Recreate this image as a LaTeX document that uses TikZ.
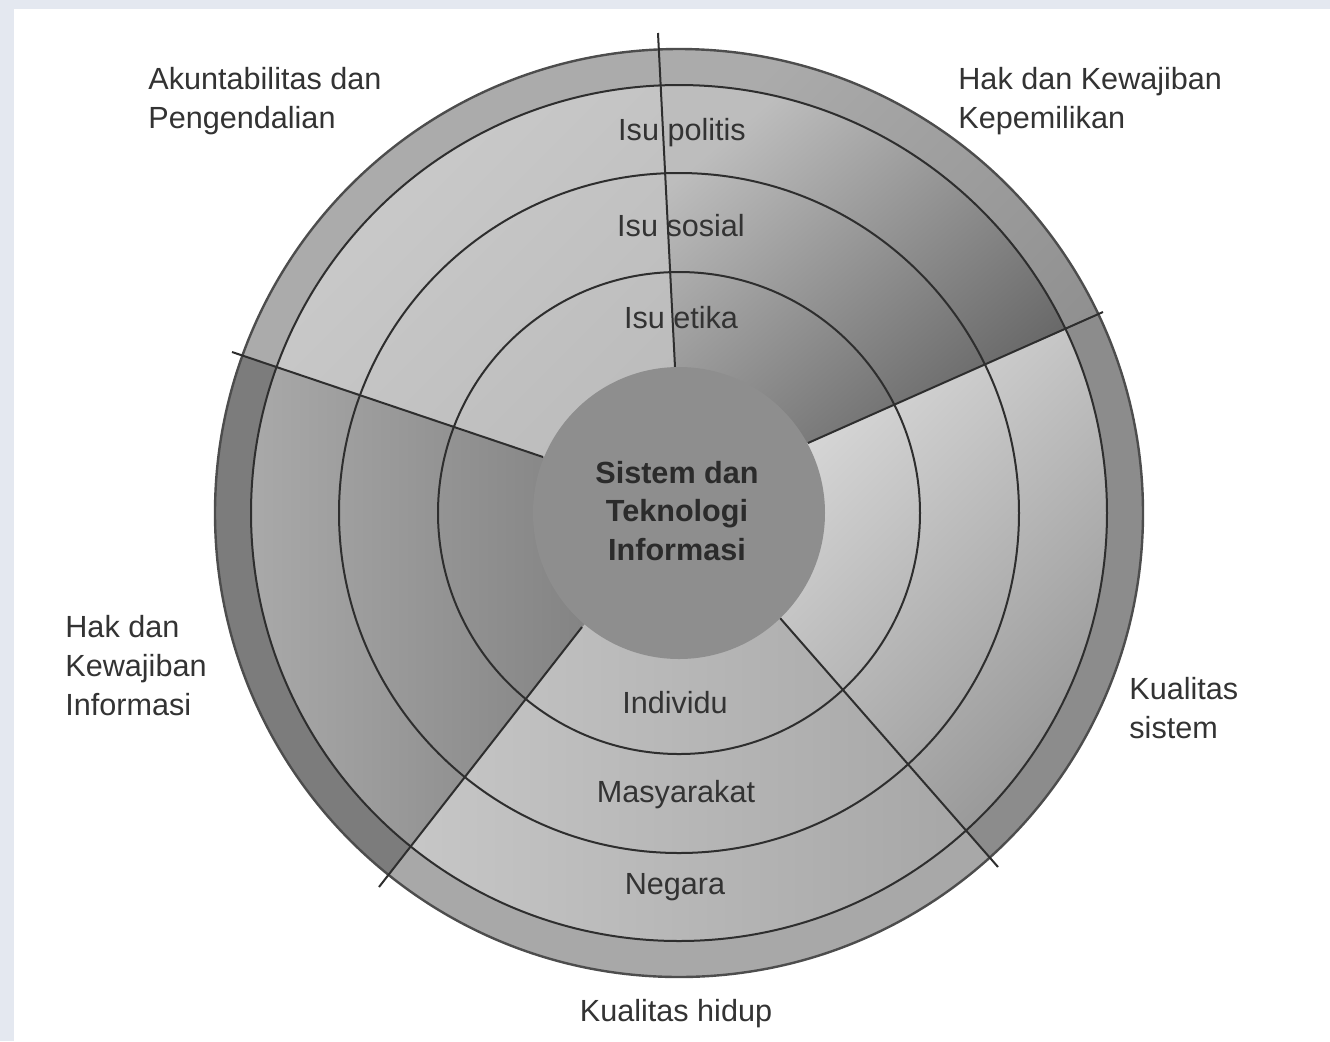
\documentclass[tikz,border=0pt]{standalone}
\usepackage{fontspec}
\setmainfont{Liberation Sans}
\usetikzlibrary{calc}
\definecolor{framecol}{HTML}{E4E8F0}
\definecolor{txtcol}{HTML}{333333}
\definecolor{edgecol}{HTML}{2E2E2E}
\definecolor{tlA}{HTML}{CDCDCD}
\definecolor{tlB}{HTML}{BBBBBB}
\definecolor{tlBand}{HTML}{ABABAB}
\definecolor{trA}{HTML}{BDBDBD}
\definecolor{trB}{HTML}{555555}
\definecolor{trBandA}{HTML}{ABABAB}
\definecolor{trBandB}{HTML}{8A8A8A}
\definecolor{rA}{HTML}{D8D8D8}
\definecolor{rB}{HTML}{969696}
\definecolor{rBand}{HTML}{8C8C8C}
\definecolor{bA}{HTML}{C8C8C8}
\definecolor{bB}{HTML}{A6A6A6}
\definecolor{bBand}{HTML}{A8A8A8}
\definecolor{lA}{HTML}{A9A9A9}
\definecolor{lB}{HTML}{828282}
\definecolor{lBand}{HTML}{7C7C7C}
\definecolor{centrecol}{HTML}{8E8E8E}
\begin{document}
\begin{tikzpicture}[x=0.5pt,y=-0.5pt,
  lbl/.style={text=txtcol,font=\fontsize{15.3}{19.5}\selectfont,inner sep=0pt},
  lblleft/.style={lbl,align=left,anchor=west},
  ringlbl/.style={lbl,anchor=center},
  centrelbl/.style={text=txtcol!85!black,font=\fontsize{15.3}{19.3}\selectfont\bfseries,align=center,inner sep=0pt},
  ringline/.style={draw=edgecol,line width=1pt},
  divider/.style={draw=edgecol,line width=1pt}]
\useasboundingbox (0,0) rectangle (1330,1041);
\fill[framecol] (0,0) rectangle (1330,1041);
\fill[white] (14,9) rectangle (1330,1041);

% centre and divider lines
\coordinate (C) at (679,513);
\coordinate (P1i) at (675,367);  \coordinate (P1o) at (658,33);
\coordinate (P2i) at (808,443);  \coordinate (P2o) at (1103,312);
\coordinate (P3i) at (780,618);  \coordinate (P3o) at (998,867);
\coordinate (P4i) at (582,627);  \coordinate (P4o) at (379,887);
\coordinate (P5i) at (543,457);  \coordinate (P5o) at (232,352);
\coordinate (F1) at ($(P1i)!3!(P1o)$);
\coordinate (F2) at ($(P2i)!3!(P2o)$);
\coordinate (F3) at ($(P3i)!3!(P3o)$);
\coordinate (F4) at ($(P4i)!3!(P4o)$);
\coordinate (F5) at ($(P5i)!3!(P5o)$);

% top-left sector
\begin{scope}
  \clip (C) -- (P1i) -- (F1) -- (F5) -- (P5i) -- cycle;
  \begin{scope}\clip (C) circle[radius=232pt];
    \fill[tlBand] (200,30) rectangle (700,530);\end{scope}
  \begin{scope}\clip (C) circle[radius=214pt];
    \shade[top color=tlA,bottom color=tlB,shading angle=45] (215,70) rectangle (690,530);\end{scope}
\end{scope}
% top-right sector
\begin{scope}
  \clip (C) -- (P2i) -- (F2) -- (F1) -- (P1i) -- cycle;
  \begin{scope}\clip (C) circle[radius=232pt];
    \shade[top color=trBandA,bottom color=trBandB,shading angle=45] (650,40) rectangle (1150,530);\end{scope}
  \begin{scope}\clip (C) circle[radius=214pt];
    \shade[top color=trA,bottom color=trB,shading angle=40] (650,80) rectangle (1110,520);\end{scope}
\end{scope}
% right sector
\begin{scope}
  \clip (C) -- (P3i) -- (F3) -- (F2) -- (P2i) -- cycle;
  \begin{scope}\clip (C) circle[radius=232pt];
    \fill[rBand] (700,250) rectangle (1160,900);\end{scope}
  \begin{scope}\clip (C) circle[radius=214pt];
    \shade[top color=rA,bottom color=rB,shading angle=45] (770,330) rectangle (1110,850);\end{scope}
\end{scope}
% bottom sector
\begin{scope}
  \clip (C) -- (P4i) -- (F4) -- (F3) -- (P3i) -- cycle;
  \begin{scope}\clip (C) circle[radius=232pt];
    \fill[bBand] (350,560) rectangle (1020,990);\end{scope}
  \begin{scope}\clip (C) circle[radius=214pt];
    \shade[left color=bA,right color=bB] (380,600) rectangle (980,950);\end{scope}
\end{scope}
% left sector
\begin{scope}
  \clip (C) -- (P5i) -- (F5) -- (F4) -- (P4i) -- cycle;
  \begin{scope}\clip (C) circle[radius=232pt];
    \fill[lBand] (190,320) rectangle (640,910);\end{scope}
  \begin{scope}\clip (C) circle[radius=214pt];
    \shade[left color=lA,right color=lB] (250,340) rectangle (600,880);\end{scope}
\end{scope}

% rings
\draw[ringline] (C) circle[radius=120.5pt];
\draw[ringline] (C) circle[radius=170pt];
\draw[ringline] (C) circle[radius=214pt];
\draw[draw=edgecol!85,line width=1.2pt] (C) circle[radius=232pt];

% divider lines
\draw[divider] (P1i) -- (P1o);
\draw[divider] (P2i) -- (P2o);
\draw[divider] (P3i) -- (P3o);
\draw[divider] (P4i) -- (P4o);
\draw[divider] (P5i) -- (P5o);

% centre disc
\fill[centrecol] (C) circle[radius=73pt];
\node[centrelbl] (centre) at (677,511) {Sistem dan\\Teknologi\\Informasi};

% ring labels
\node[ringlbl] (politis) at (682,133) {Isu politis};
\node[ringlbl] (sosial) at (681,226) {Isu sosial};
\node[ringlbl] (etika) at (681,318) {Isu etika};
\node[ringlbl] (individu) at (675,703) {Individu};
\node[ringlbl] (masyarakat) at (676,795) {Masyarakat};
\node[ringlbl] (negara) at (675,887) {Negara};

% outer labels
\node[lblleft] (akun) at (148,101) {Akuntabilitas dan\\Pengendalian};
\node[lblleft] (hakmilik) at (958,101) {Hak dan Kewajiban\\Kepemilikan};
\node[lblleft] (hakinfo) at (65,666) {Hak dan\\Kewajiban\\Informasi};
\node[lblleft] (kualsis) at (1129,708) {Kualitas\\sistem};
\node[ringlbl] (kualhid) at (676,1014) {Kualitas hidup};
\end{tikzpicture}
\end{document}
